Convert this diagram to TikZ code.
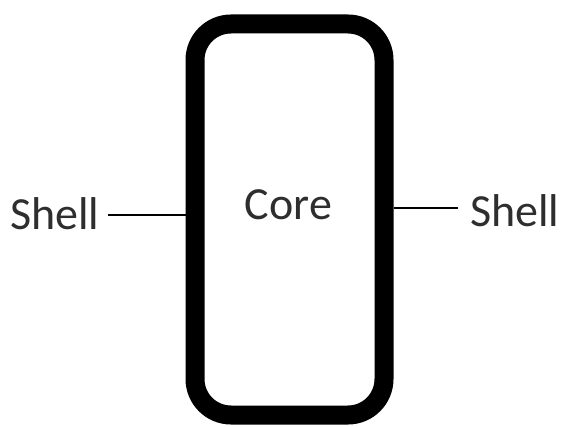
\documentclass[tikz,border=0pt]{standalone}
\usepackage{fontspec}
\setmainfont{Carlito}
\definecolor{txt}{HTML}{2E2E2E}
\begin{document}
\begin{tikzpicture}[x=1pt,y=1pt,
  lbl/.style={anchor=base west,inner sep=0pt,text=txt,font=\fontsize{46}{55}\selectfont},
  shellbox/.style={draw=black,line width=19pt,rounded corners=36pt,minimum width=189pt,minimum height=391pt,inner sep=0pt},
  leader/.style={draw=black,line width=1.8pt}]
\useasboundingbox (0,0) rectangle (562,426);
\node[shellbox] (box) at (289.5,206.5) {};
\node[lbl,anchor=base] (core) at (288.5,206) {Core};
\node[lbl] (shl) at (10,196) {Shell};
\node[lbl] (shr) at (470,199) {Shell};
\coordinate (l1) at (108,211);
\coordinate (r1) at (458,218);
\draw[leader] (l1) -- (box.west |- l1);
\draw[leader] (box.east |- r1) -- (r1);
\end{tikzpicture}
\end{document}
